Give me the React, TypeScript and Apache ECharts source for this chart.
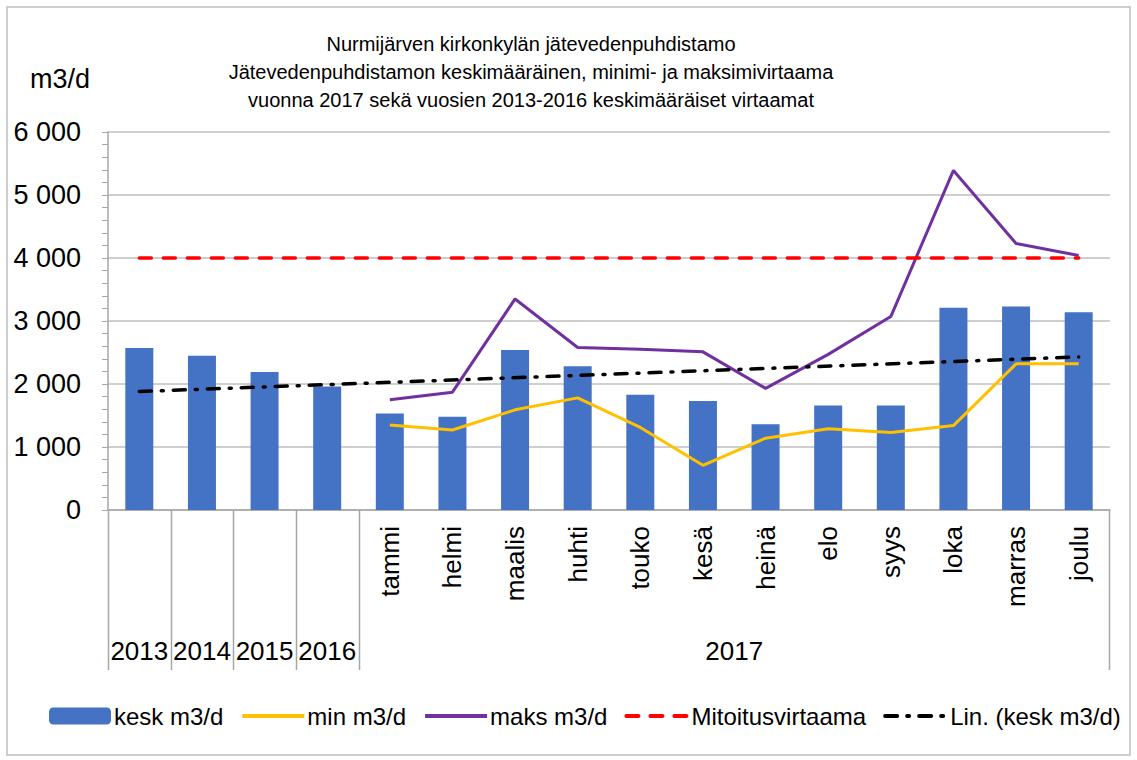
import React, { useEffect, useRef } from 'react';
import * as echarts from 'echarts';

const FONT = '"Liberation Sans Narrow", "Liberation Sans", Arial, sans-serif';

const categories = ['2013', '2014', '2015', '2016', 'tammi', 'helmi', 'maalis', 'huhti', 'touko', 'kesä', 'heinä', 'elo', 'syys', 'loka', 'marras', 'joulu'];
const yearLabels = ['2013', '2014', '2015', '2016'];
const groupLabel = '2017';
const kesk = [2570, 2450, 2190, 1960, 1530, 1480, 2540, 2280, 1830, 1730, 1360, 1660, 1660, 3210, 3230, 3140];
const minV = ['-', '-', '-', '-', 1350, 1270, 1590, 1780, 1310, 710, 1140, 1290, 1230, 1340, 2320, 2320];
const maksV = ['-', '-', '-', '-', 1750, 1870, 3350, 2580, 2550, 2510, 1930, 2470, 3070, 5390, 4230, 4040];
const mitoitus = [4000, 4000, 4000, 4000, 4000, 4000, 4000, 4000, 4000, 4000, 4000, 4000, 4000, 4000, 4000, 4000];
const trend = [1880, null, null, null, null, null, null, null, null, null, null, null, null, null, null, 2430];
const yTicks = { min: 0, max: 6000, interval: 1000 };
const titleLines = [
  'Nurmijärven kirkonkylän jätevedenpuhdistamo',
  'Jätevedenpuhdistamon keskimääräinen, minimi- ja maksimivirtaama',
  'vuonna 2017 sekä vuosien 2013-2016 keskimääräiset virtaamat',
];

const fmt = (v: number) => String(v).replace(/\B(?=(\d{3})+(?!\d))/g, ' ');

export default function App() {
  const ref = useRef<HTMLDivElement>(null);
  useEffect(() => {
    const chart = echarts.init(ref.current!, null, { renderer: 'svg' });
    const lineItem = (name: string) => ({ name, itemStyle: { opacity: 0 }, lineStyle: { width: 4 } });
    const option: any = {
      animation: false,
      backgroundColor: '#fff',
      textStyle: { fontFamily: FONT },
      title: {
        text: titleLines.join('\n'),
        left: 526,
        top: 25,
        textAlign: 'center',
        textStyle: { fontFamily: FONT, fontSize: 20, fontWeight: 'normal', color: '#000', lineHeight: 28 },
      },
      grid: { left: 108, right: 27, top: 132, bottom: 250, containLabel: false },
      legend: {
        left: 49,
        top: 704,
        padding: 0,
        itemWidth: 62,
        itemHeight: 17,
        itemGap: 17,
        textStyle: { fontFamily: FONT, fontSize: 24, color: '#000', padding: [0, 0, 0, -2] },
        data: [
          { name: 'kesk m3/d' },
          lineItem('min m3/d'),
          lineItem('maks m3/d'),
          lineItem('Mitoitusvirtaama'),
          lineItem('Lin. (kesk m3/d)'),
        ],
      },
      xAxis: {
        type: 'category',
        data: categories,
        boundaryGap: true,
        axisLine: { lineStyle: { color: '#A6A6A6', width: 1.5 } },
        axisTick: { show: false },
        axisLabel: {
          rotate: 90,
          margin: 16,
          fontSize: 26,
          color: '#000',
          fontFamily: FONT,
          formatter: (v: string) => (yearLabels.includes(v) ? '' : v),
        },
        splitLine: { show: false },
      },
      yAxis: {
        type: 'value',
        min: yTicks.min,
        max: yTicks.max,
        interval: yTicks.interval,
        axisLine: { show: true, lineStyle: { color: '#A6A6A6', width: 1.5 } },
        axisTick: { show: true, length: 6, lineStyle: { color: '#A6A6A6' } },
        minorTick: { show: true, splitNumber: 5, length: 6, lineStyle: { color: '#A6A6A6' } },
        axisLabel: { fontSize: 27, color: '#000', margin: 27, fontFamily: FONT, formatter: (v: number) => fmt(v) },
        splitLine: { lineStyle: { color: '#BFBFBF', width: 1.5 } },
      },
      series: [
        {
          name: 'kesk m3/d',
          type: 'bar',
          data: kesk,
          barWidth: 28,
          itemStyle: { color: '#4472C4' },
        },
        {
          name: 'min m3/d',
          type: 'line',
          data: minV,
          symbol: 'none',
          lineStyle: { color: '#FFC000', width: 3 },
          itemStyle: { color: '#FFC000' },
        },
        {
          name: 'maks m3/d',
          type: 'line',
          data: maksV,
          symbol: 'none',
          lineStyle: { color: '#7030A0', width: 3 },
          itemStyle: { color: '#7030A0' },
        },
        {
          name: 'Mitoitusvirtaama',
          type: 'line',
          data: mitoitus,
          symbol: 'none',
          lineStyle: { color: '#FF0000', width: 3.5, type: [12, 12], cap: 'round' },
          itemStyle: { color: '#FF0000' },
        },
        {
          name: 'Lin. (kesk m3/d)',
          type: 'line',
          data: trend,
          connectNulls: true,
          symbol: 'none',
          lineStyle: { color: '#000', width: 3.5, type: [12, 10, 2, 10], cap: 'round' },
          itemStyle: { color: '#000' },
          z: 5,
        },
      ],
    };
    chart.setOption(option);

    const cx = (i: number) => chart.convertToPixel({ xAxisIndex: 0 }, i) as number;
    const band = cx(1) - cx(0);
    const y0 = chart.convertToPixel({ yAxisIndex: 0 }, 0) as number;
    const sepLen = 160;
    const graphic: any[] = [
      {
        type: 'rect',
        shape: { x: 7, y: 7, width: 1123, height: 748 },
        style: { fill: 'none', stroke: '#BFBFBF', lineWidth: 1.5 },
        silent: true,
      },
      {
        type: 'text',
        x: 30,
        y: 65,
        style: { text: 'm3/d', font: `27px ${FONT}`, fill: '#000' },
      },
    ];
    const sepIdx = [0, 1, 2, 3, 4];
    sepIdx.forEach((i) => {
      const x = Math.round(cx(i) - band / 2) + 0.5;
      graphic.push({ type: 'line', shape: { x1: x, y1: y0, x2: x, y2: y0 + sepLen }, style: { stroke: '#A6A6A6', lineWidth: 1.5 } });
    });
    const xr = Math.round(cx(categories.length - 1) + band / 2) - 0.5;
    graphic.push({ type: 'line', shape: { x1: xr, y1: y0, x2: xr, y2: y0 + sepLen }, style: { stroke: '#A6A6A6', lineWidth: 1.5 } });
    yearLabels.forEach((lab, i) => {
      graphic.push({
        type: 'text',
        x: cx(i),
        y: y0 + 141,
        style: { text: lab, font: `26px ${FONT}`, fill: '#000', align: 'center', verticalAlign: 'middle' },
      });
    });
    const mid = (cx(yearLabels.length) + cx(categories.length - 1)) / 2;
    graphic.push({
      type: 'text',
      x: mid,
      y: y0 + 141,
      style: { text: groupLabel, font: `26px ${FONT}`, fill: '#000', align: 'center', verticalAlign: 'middle' },
    });
    chart.setOption({ graphic });
    return () => chart.dispose();
  }, []);
  return <div ref={ref} style={{ position: 'fixed', left: 0, top: 0, width: 1137, height: 760 }} />;
}
